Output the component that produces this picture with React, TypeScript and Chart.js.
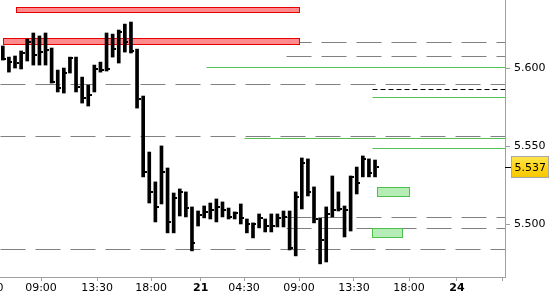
import React, { useEffect, useRef } from "react";
import { Chart, registerables } from "chart.js";

Chart.register(...registerables);

// 30-minute bars: high, low, close
const highs = [
  5.6141, 5.607, 5.6077, 5.6109, 5.6185, 5.6224, 5.6205, 5.6224, 5.6128, 5.5987,
  5.6, 5.607, 5.607, 5.5942, 5.5891, 5.6019, 5.6038, 5.6224, 5.6217, 5.6243,
  5.6281, 5.6294, 5.6121, 5.5821, 5.5463, 5.5272, 5.5502, 5.5361, 5.5201, 5.5227,
  5.5208, 5.5112, 5.5086, 5.5118, 5.5137, 5.5163, 5.5144, 5.5105, 5.508, 5.5131,
  5.5035, 5.501, 5.5067, 5.5035, 5.5067, 5.5067, 5.5086, 5.5086, 5.5208, 5.5425,
  5.5419, 5.524, 5.5042, 5.5112, 5.531, 5.5208, 5.5118, 5.531, 5.5367, 5.5438,
  5.5419, 5.5412,
];
const lows = [
  5.6051, 5.5974, 5.6, 5.5994, 5.6045, 5.6019, 5.6019, 5.6019, 5.5904, 5.5847,
  5.584, 5.5968, 5.5847, 5.5776, 5.5757, 5.5847, 5.5974, 5.5981, 5.607, 5.6032,
  5.6102, 5.6096, 5.5744, 5.5304, 5.5137, 5.5016, 5.5131, 5.4946, 5.4946, 5.5054,
  5.5048, 5.4831, 5.499, 5.5042, 5.5035, 5.5016, 5.5048, 5.5035, 5.5035, 5.5003,
  5.4946, 5.4914, 5.4978, 5.4952, 5.4952, 5.4984, 5.4984, 5.4837, 5.4799, 5.5099,
  5.5182, 5.501, 5.4748, 5.476, 5.5048, 5.5086, 5.492, 5.4958, 5.5195, 5.5304,
  5.5304, 5.5304,
];
const closes = [
  5.6058, 5.6038, 5.6032, 5.6096, 5.6166, 5.6083, 5.6102, 5.6115, 5.5911, 5.5872,
  5.5968, 5.6064, 5.5879, 5.5808, 5.5827, 5.5994, 5.5987, 5.5994, 5.6121, 5.623,
  5.6166, 5.6109, 5.5802, 5.5335, 5.5208, 5.5112, 5.5335, 5.5016, 5.5169, 5.5208,
  5.5105, 5.4882, 5.5061, 5.508, 5.5093, 5.5112, 5.5093, 5.5048, 5.5073, 5.5042,
  5.5003, 5.5003, 5.5042, 5.499, 5.499, 5.5042, 5.5048, 5.485, 5.5176, 5.5393,
  5.5208, 5.5035, 5.4901, 5.5067, 5.5093, 5.5099, 5.5093, 5.5304, 5.5265, 5.5419,
  5.5329, 5.537,
];

// axis ticks (bar-index positions on the x axis)
const xTickValues = [-2.5, 6.26, 15.44, 24.29, 32.43, 39.53, 48.54, 57.55, 66.57, 74.43, 81.81];
const xTickLabels = ["04:30", "09:00", "13:30", "18:00", "21", "04:30", "09:00", "13:30", "18:00", "24", ""];
const dayLabels = ["21", "24"];
const yTickValues = [5.5, 5.55, 5.6];

const X_MIN = -8;
const X_MAX = 82.3;
const Y_MIN = 5.4664;
const Y_MAX = 5.6435;

// horizontal levels
const grayDashLevels = [5.6164, 5.6075, 5.5896, 5.5565, 5.5045, 5.4975, 5.4843];
const grayDashStarts = [46.4, 46.4, -0.5, -0.5, 46.4, 46.4, -0.5];
const greenLineLevels = [5.6004, 5.5813, 5.5553, 5.5487];
const greenLineStarts = [33.3, 60.5, 39.5, 60.5];
const blackDashLevels = [5.5864];
const blackDashStarts = [60.5];

// zones
const redZoneTops = [5.6388, 5.6194];
const redZoneBottoms = [5.6356, 5.6151];
const redZoneStarts = [2.2, 0];
const redZoneEnds = [48.5, 48.5];
const greenZoneTops = [5.5238, 5.498];
const greenZoneBottoms = [5.5179, 5.4919];
const greenZoneStarts = [61.3, 60.5];
const greenZoneEnds = [66.6, 65.5];

const FONT = "DejaVu Sans";

const levelsPlugin = {
  id: "levels",
  beforeDatasetsDraw(chart: any) {
    const { ctx, chartArea, scales } = chart;
    const x = scales.x;
    const y = scales.y;
    const px = (v: number) => Math.round(x.getPixelForValue(v)) + 0.5;
    const py = (v: number) => Math.round(y.getPixelForValue(v)) + 0.5;
    const right = chartArea.right;
    ctx.save();
    ctx.beginPath();
    ctx.rect(chartArea.left, chartArea.top, chartArea.width, chartArea.height);
    ctx.clip();
    ctx.lineWidth = 1;

    // gray dashed
    ctx.strokeStyle = "#808080";
    ctx.setLineDash([25, 10]);
    grayDashLevels.forEach((lv, k) => {
      ctx.beginPath();
      ctx.moveTo(px(grayDashStarts[k]), py(lv));
      ctx.lineTo(right, py(lv));
      ctx.stroke();
    });
    // black dashed
    ctx.strokeStyle = "#000";
    ctx.setLineDash([5, 3]);
    blackDashLevels.forEach((lv, k) => {
      ctx.beginPath();
      ctx.moveTo(px(blackDashStarts[k]), py(lv));
      ctx.lineTo(right, py(lv));
      ctx.stroke();
    });
    ctx.setLineDash([]);
    // green lines
    ctx.strokeStyle = "#55c055";
    greenLineLevels.forEach((lv, k) => {
      ctx.beginPath();
      ctx.moveTo(px(greenLineStarts[k]), py(lv));
      ctx.lineTo(right, py(lv));
      ctx.stroke();
    });
    // red zones
    redZoneTops.forEach((t, k) => {
      const x0 = px(redZoneStarts[k]);
      const x1 = px(redZoneEnds[k]);
      const y0 = py(t);
      const y1 = py(redZoneBottoms[k]);
      ctx.fillStyle = "#ff8c8c";
      ctx.fillRect(x0, y0, x1 - x0, y1 - y0);
      ctx.strokeStyle = "#e80000";
      ctx.strokeRect(x0, y0, x1 - x0, y1 - y0);
    });
    // green zones
    greenZoneTops.forEach((t, k) => {
      const x0 = px(greenZoneStarts[k]);
      const x1 = px(greenZoneEnds[k]);
      const y0 = py(t);
      const y1 = py(greenZoneBottoms[k]);
      ctx.fillStyle = "#b6ecb6";
      ctx.fillRect(x0, y0, x1 - x0, y1 - y0);
      ctx.strokeStyle = "#4cc04c";
      ctx.strokeRect(x0, y0, x1 - x0, y1 - y0);
    });
    ctx.restore();
  },
  afterDatasetsDraw(chart: any) {
    const { ctx, scales } = chart;
    const y = scales.y;
    const meta = chart.getDatasetMeta(0);
    ctx.save();
    ctx.fillStyle = "#000";
    meta.data.forEach((el: any, k: number) => {
      const yy = Math.round(y.getPixelForValue(closes[k]));
      const r = Math.round(el.x + el.width / 2);
      ctx.fillRect(r, yy - 1, 2, 2);
    });
    ctx.restore();
  },
  afterDraw(chart: any) {
    const { ctx, chartArea, scales } = chart;
    const y = scales.y;
    const last = closes[closes.length - 1];
    const yy = Math.round(y.getPixelForValue(last)) + 0.5;
    const x0 = chartArea.right;
    ctx.save();
    ctx.strokeStyle = "#000";
    ctx.lineWidth = 1;
    ctx.beginPath();
    ctx.moveTo(x0, yy);
    ctx.lineTo(x0 + 6, yy);
    ctx.stroke();
    const bx = x0 + 6.5;
    const by = yy - 11;
    const bw = 37;
    const bh = 21;
    const g = ctx.createLinearGradient(0, by, 0, by + bh);
    g.addColorStop(0, "#ffe64d");
    g.addColorStop(0.5, "#ffd51a");
    g.addColorStop(1, "#f5c800");
    ctx.fillStyle = g;
    ctx.fillRect(bx, by, bw, bh);
    ctx.strokeStyle = "#a8a8a8";
    ctx.strokeRect(bx, by, bw, bh);
    ctx.fillStyle = "#000";
    ctx.font = `11px "${FONT}"`;
    ctx.textBaseline = "middle";
    ctx.textAlign = "left";
    ctx.fillText(last.toFixed(3), bx + 3, yy + 0.5);
    ctx.restore();
  },
};

export default function App() {
  const canvasRef = useRef<HTMLCanvasElement | null>(null);

  useEffect(() => {
    const canvas = canvasRef.current;
    if (!canvas) return;
    const chart = new Chart(canvas, {
      type: "bar",
      data: {
        datasets: [
          {
            data: highs.map((h, k) => ({ x: k, y: [lows[k], h] })) as any,
            backgroundColor: "#000",
            borderWidth: 0,
            barThickness: 3,
          },
        ],
      },
      options: {
        animation: false,
        responsive: false,
        maintainAspectRatio: false,
        events: [],
        layout: { padding: 0 },
        plugins: { legend: { display: false }, tooltip: { enabled: false } },
        scales: {
          x: {
            type: "linear",
            min: X_MIN,
            max: X_MAX,
            offset: false,
            afterBuildTicks: (s: any) => {
              s.ticks = xTickValues.map((v) => ({ value: v }));
            },
            afterFit: (s: any) => {
              s.height = 23;
              s.paddingLeft = 0;
              s.paddingRight = 0;
            },
            ticks: {
              autoSkip: false,
              maxRotation: 0,
              padding: 1,
              color: "#000",
              callback: (_v: any, i: number) => xTickLabels[i],
              font: (c: any) => ({
                family: FONT,
                size: 11,
                weight: dayLabels.includes(xTickLabels[c.index]) ? "bold" : "normal",
              }),
            },
            grid: { drawOnChartArea: false, tickLength: 4, color: "#a0a0a0", offset: false },
            border: { color: "#a0a0a0" },
          } as any,
          y: {
            type: "linear",
            position: "right",
            min: Y_MIN,
            max: Y_MAX,
            afterBuildTicks: (s: any) => {
              s.ticks = yTickValues.map((v) => ({ value: v }));
            },
            afterFit: (s: any) => {
              s.width = 45;
              s.paddingTop = 0;
              s.paddingBottom = 0;
            },
            ticks: {
              padding: 4,
              color: "#000",
              font: { family: FONT, size: 11 },
              callback: (v: any) => Number(v).toFixed(3),
            },
            grid: { drawOnChartArea: false, tickLength: 5, color: "#a0a0a0" },
            border: { color: "#a0a0a0" },
          } as any,
        },
      },
      plugins: [levelsPlugin as any],
    });
    return () => chart.destroy();
  }, []);

  return (
    <div
      style={{
        position: "fixed",
        left: 0,
        top: 0,
        width: 550,
        height: 300,
        overflow: "hidden",
        background: "#fff",
      }}
    >
      <canvas
        ref={canvasRef}
        width={596}
        height={300}
        style={{ position: "absolute", left: -46, top: 0, width: 596, height: 300 }}
      />
    </div>
  );
}
